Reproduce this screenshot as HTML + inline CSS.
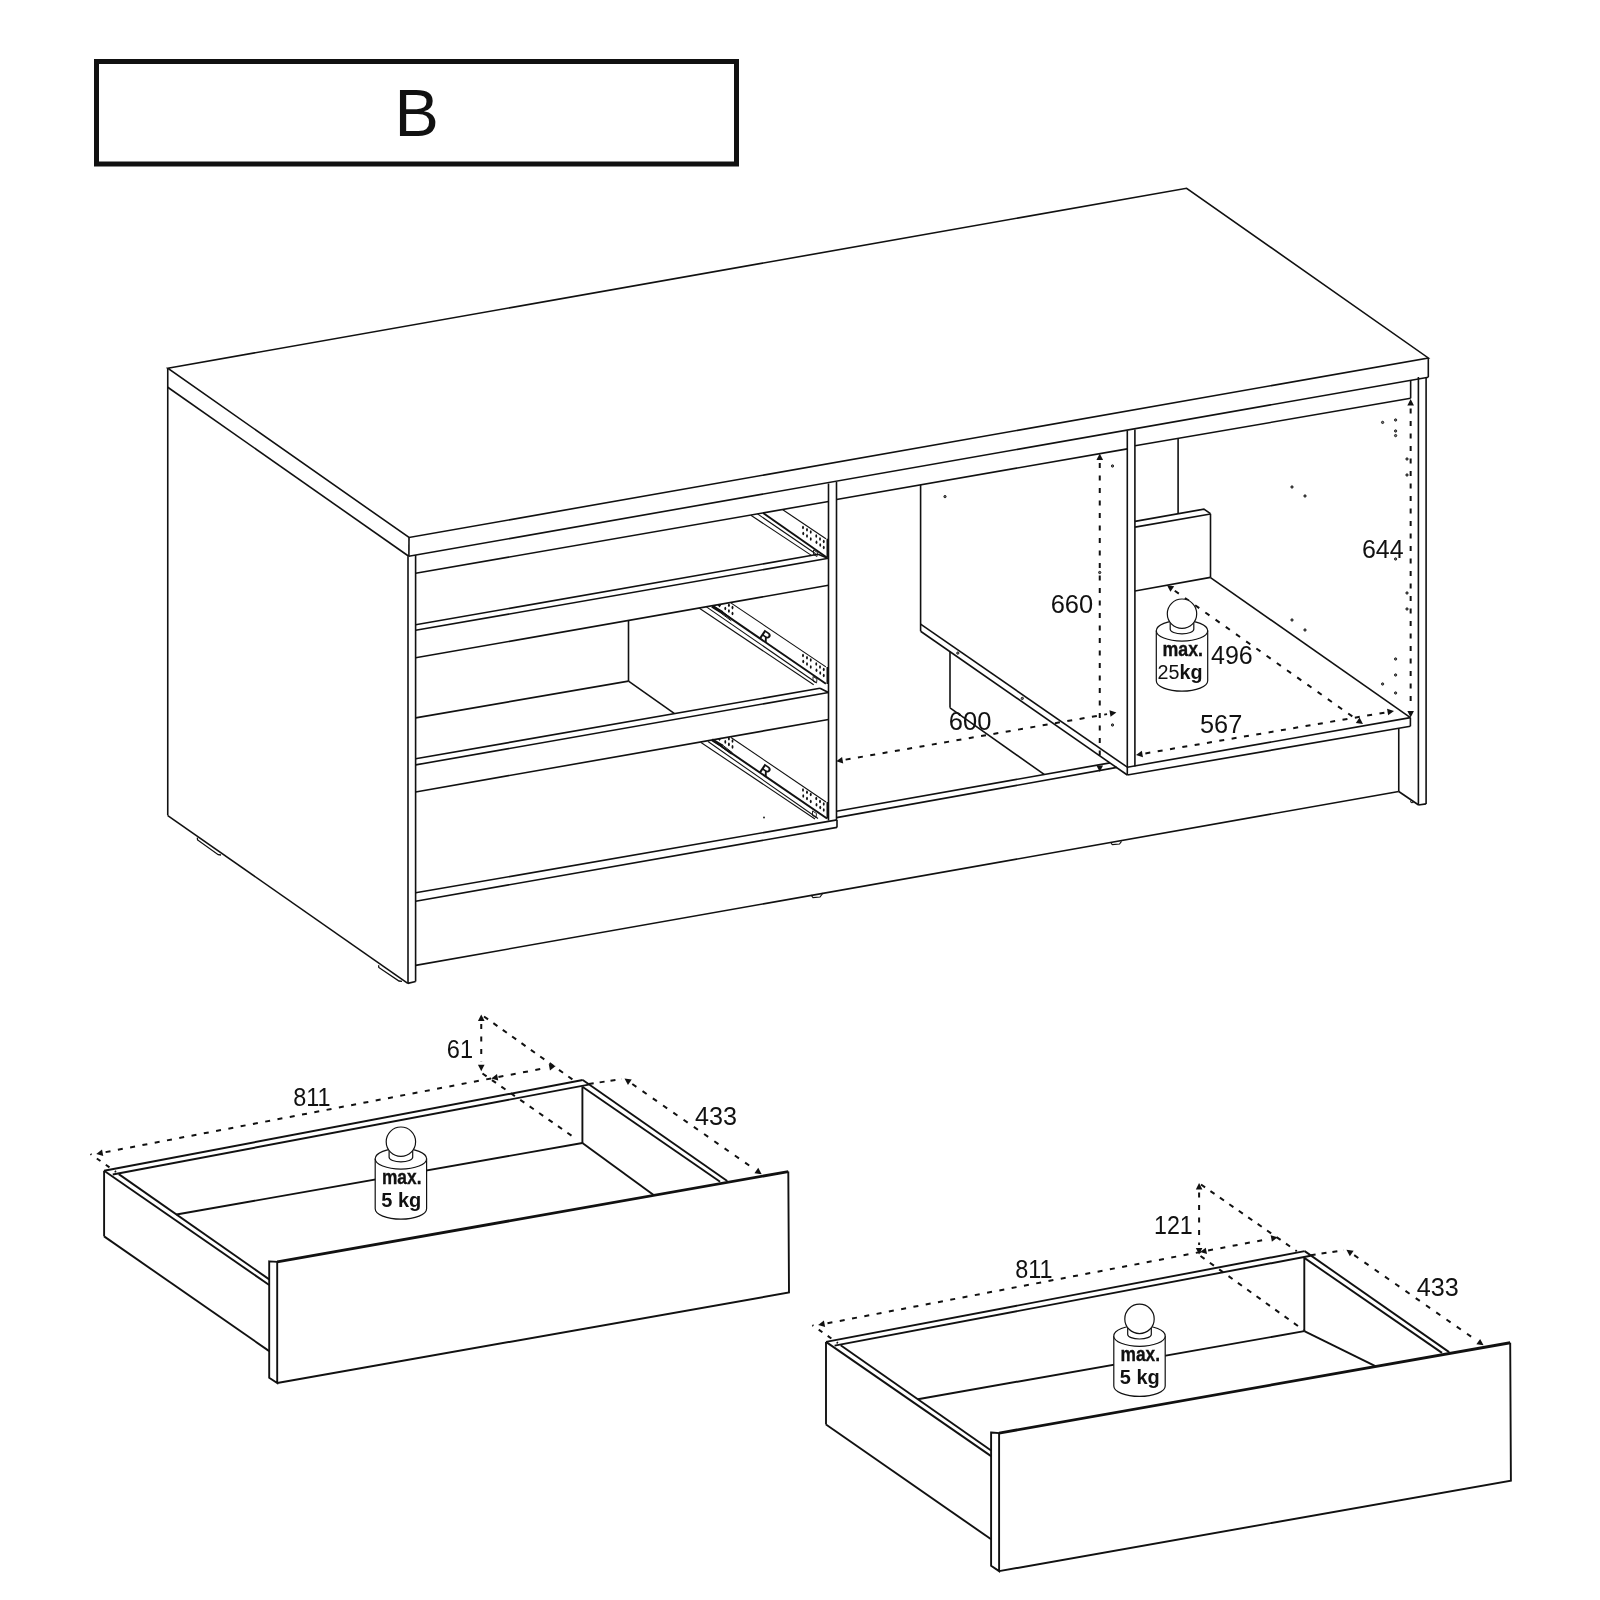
<!DOCTYPE html>
<html><head><meta charset="utf-8"><style>
html,body{margin:0;padding:0;background:#fff;}
svg{display:block;}
svg line, svg polyline, svg polygon, svg path, svg ellipse, svg circle, svg rect{stroke:#111;stroke-linecap:butt;stroke-linejoin:miter;}
.f{fill:#111;stroke:none !important;}
.d{stroke:#111;}
text{font-family:"Liberation Sans",sans-serif;fill:#111;stroke:none !important;}
</style></head><body>
<svg width="1600" height="1600" viewBox="0 0 1600 1600" style="will-change:transform">
<rect x="0" y="0" width="1600" height="1600" fill="#fff" style="stroke:none"/>
<rect x="96.5" y="61.5" width="640" height="102.5" fill="none" stroke-width="5"/>
<text x="394.40" y="135.90" font-size="66.5" text-anchor="start" >B</text>
<polygon points="167.75,368.25 1186.60,188.25 1428.30,357.95 409.06,537.50" stroke-width="1.6" fill="none"/>
<line x1="167.75" y1="368.25" x2="167.75" y2="815.60" stroke-width="1.6"/>
<line x1="167.75" y1="387.25" x2="408.75" y2="556.25" stroke-width="1.6"/>
<line x1="409.00" y1="537.50" x2="408.90" y2="556.25" stroke-width="1.6"/>
<line x1="1428.30" y1="357.95" x2="1428.30" y2="377.20" stroke-width="1.6"/>
<line x1="408.75" y1="556.25" x2="1428.30" y2="377.20" stroke-width="1.6"/>
<line x1="167.75" y1="815.60" x2="407.80" y2="983.40" stroke-width="1.6"/>
<line x1="408.00" y1="556.25" x2="408.00" y2="983.40" stroke-width="1.6"/>
<line x1="415.60" y1="555.00" x2="415.60" y2="981.50" stroke-width="1.6"/>
<line x1="407.80" y1="983.40" x2="415.60" y2="981.50" stroke-width="1.6"/>
<polyline points="197.30,837.60 197.60,840.00 218.20,854.70 221.00,855.00" stroke-width="1.3" fill="none"/>
<polyline points="378.60,965.20 378.80,967.50 399.00,981.00 402.00,981.30" stroke-width="1.3" fill="none"/>
<line x1="415.60" y1="573.30" x2="828.50" y2="501.50" stroke-width="1.6"/>
<line x1="415.60" y1="624.80" x2="818.00" y2="554.30" stroke-width="1.6"/>
<line x1="818.00" y1="554.30" x2="828.50" y2="558.50" stroke-width="1.6"/>
<line x1="415.60" y1="630.30" x2="828.50" y2="558.30" stroke-width="1.6"/>
<line x1="415.60" y1="657.80" x2="828.50" y2="585.30" stroke-width="1.6"/>
<line x1="628.50" y1="620.80" x2="628.50" y2="681.10" stroke-width="1.6"/>
<line x1="415.60" y1="717.90" x2="628.50" y2="681.10" stroke-width="1.6"/>
<line x1="628.50" y1="681.10" x2="674.20" y2="713.40" stroke-width="1.6"/>
<line x1="415.60" y1="758.80" x2="820.00" y2="688.20" stroke-width="1.6"/>
<line x1="820.00" y1="688.20" x2="828.50" y2="692.50" stroke-width="1.6"/>
<line x1="415.60" y1="764.90" x2="828.50" y2="692.50" stroke-width="1.6"/>
<line x1="415.60" y1="792.00" x2="828.50" y2="719.50" stroke-width="1.6"/>
<line x1="415.60" y1="892.80" x2="837.00" y2="819.90" stroke-width="1.6"/>
<line x1="415.60" y1="901.20" x2="837.00" y2="827.40" stroke-width="1.6"/>
<line x1="837.00" y1="819.90" x2="837.00" y2="827.40" stroke-width="1.6"/>
<circle cx="764.00" cy="817.50" r="0.9" class="f"/>
<line x1="828.50" y1="483.50" x2="828.50" y2="820.50" stroke-width="1.6"/>
<line x1="836.50" y1="482.00" x2="836.50" y2="819.90" stroke-width="1.6"/>
<line x1="750.90" y1="515.30" x2="811.80" y2="555.60" stroke-width="1.1"/>
<line x1="757.50" y1="513.90" x2="815.60" y2="553.70" stroke-width="1.1"/>
<line x1="763.10" y1="513.00" x2="826.80" y2="557.50" stroke-width="2.0"/>
<line x1="782.80" y1="509.70" x2="825.90" y2="538.70" stroke-width="1.1"/>
<line x1="827.30" y1="538.70" x2="827.30" y2="557.50" stroke-width="1.6"/>
<ellipse class="f" cx="803.00" cy="527.50" rx="0.95" ry="1.8"/>
<ellipse class="f" cx="807.00" cy="529.75" rx="0.95" ry="1.8"/>
<ellipse class="f" cx="810.75" cy="532.00" rx="0.95" ry="1.8"/>
<ellipse class="f" cx="803.25" cy="533.50" rx="0.95" ry="1.8"/>
<ellipse class="f" cx="807.00" cy="536.00" rx="0.95" ry="1.8"/>
<ellipse class="f" cx="810.75" cy="539.00" rx="0.95" ry="1.8"/>
<ellipse class="f" cx="816.25" cy="536.00" rx="0.95" ry="1.8"/>
<ellipse class="f" cx="820.00" cy="539.00" rx="0.95" ry="1.8"/>
<ellipse class="f" cx="823.75" cy="541.50" rx="0.95" ry="1.8"/>
<ellipse class="f" cx="816.50" cy="542.25" rx="0.95" ry="1.8"/>
<ellipse class="f" cx="820.25" cy="545.00" rx="0.95" ry="1.8"/>
<ellipse class="f" cx="823.75" cy="547.50" rx="0.95" ry="1.8"/>
<polyline points="813.50,550.00 813.50,554.50 817.00,556.50 817.50,552.50 813.50,550.00" stroke-width="0.9" fill="none"/>
<line x1="699.40" y1="608.30" x2="813.70" y2="684.70" stroke-width="1.1"/>
<line x1="706.40" y1="606.90" x2="815.60" y2="682.30" stroke-width="1.1"/>
<line x1="712.50" y1="605.90" x2="825.90" y2="683.70" stroke-width="2.0"/>
<line x1="731.20" y1="603.10" x2="825.90" y2="666.90" stroke-width="1.1"/>
<line x1="827.30" y1="667.00" x2="827.30" y2="684.00" stroke-width="1.6"/>
<ellipse class="f" cx="803.00" cy="655.50" rx="0.95" ry="1.8"/>
<ellipse class="f" cx="807.00" cy="657.75" rx="0.95" ry="1.8"/>
<ellipse class="f" cx="810.75" cy="660.00" rx="0.95" ry="1.8"/>
<ellipse class="f" cx="803.25" cy="661.50" rx="0.95" ry="1.8"/>
<ellipse class="f" cx="807.00" cy="664.00" rx="0.95" ry="1.8"/>
<ellipse class="f" cx="810.75" cy="667.00" rx="0.95" ry="1.8"/>
<ellipse class="f" cx="816.25" cy="664.00" rx="0.95" ry="1.8"/>
<ellipse class="f" cx="820.00" cy="667.00" rx="0.95" ry="1.8"/>
<ellipse class="f" cx="823.75" cy="669.50" rx="0.95" ry="1.8"/>
<ellipse class="f" cx="816.50" cy="670.25" rx="0.95" ry="1.8"/>
<ellipse class="f" cx="820.25" cy="673.00" rx="0.95" ry="1.8"/>
<ellipse class="f" cx="823.75" cy="675.50" rx="0.95" ry="1.8"/>
<ellipse class="f" cx="725.30" cy="608.50" rx="0.95" ry="1.8"/>
<ellipse class="f" cx="728.90" cy="605.30" rx="0.95" ry="1.8"/>
<ellipse class="f" cx="728.90" cy="611.00" rx="0.95" ry="1.8"/>
<ellipse class="f" cx="732.50" cy="607.60" rx="0.95" ry="1.8"/>
<ellipse class="f" cx="732.50" cy="613.50" rx="0.95" ry="1.8"/>
<polyline points="813.00,676.50 813.00,681.00 816.50,683.00 817.00,679.00 813.00,676.50" stroke-width="0.9" fill="none"/>
<line x1="701.00" y1="742.50" x2="815.00" y2="819.00" stroke-width="1.1"/>
<line x1="708.00" y1="741.50" x2="818.00" y2="818.50" stroke-width="1.1"/>
<line x1="713.00" y1="740.50" x2="827.00" y2="818.50" stroke-width="2.0"/>
<line x1="731.00" y1="737.50" x2="826.00" y2="802.00" stroke-width="1.1"/>
<line x1="827.30" y1="802.00" x2="827.30" y2="818.50" stroke-width="1.6"/>
<ellipse class="f" cx="803.00" cy="790.00" rx="0.95" ry="1.8"/>
<ellipse class="f" cx="807.00" cy="792.25" rx="0.95" ry="1.8"/>
<ellipse class="f" cx="810.75" cy="794.50" rx="0.95" ry="1.8"/>
<ellipse class="f" cx="803.25" cy="796.00" rx="0.95" ry="1.8"/>
<ellipse class="f" cx="807.00" cy="798.50" rx="0.95" ry="1.8"/>
<ellipse class="f" cx="810.75" cy="801.50" rx="0.95" ry="1.8"/>
<ellipse class="f" cx="816.25" cy="798.50" rx="0.95" ry="1.8"/>
<ellipse class="f" cx="820.00" cy="801.50" rx="0.95" ry="1.8"/>
<ellipse class="f" cx="823.75" cy="804.00" rx="0.95" ry="1.8"/>
<ellipse class="f" cx="816.50" cy="804.75" rx="0.95" ry="1.8"/>
<ellipse class="f" cx="820.25" cy="807.50" rx="0.95" ry="1.8"/>
<ellipse class="f" cx="823.75" cy="810.00" rx="0.95" ry="1.8"/>
<ellipse class="f" cx="725.30" cy="741.90" rx="0.95" ry="1.8"/>
<ellipse class="f" cx="728.90" cy="738.70" rx="0.95" ry="1.8"/>
<ellipse class="f" cx="728.90" cy="744.40" rx="0.95" ry="1.8"/>
<ellipse class="f" cx="732.50" cy="741.00" rx="0.95" ry="1.8"/>
<ellipse class="f" cx="732.50" cy="746.90" rx="0.95" ry="1.8"/>
<polyline points="812.50,811.00 812.50,815.50 816.00,817.50 816.50,813.50 812.50,811.00" stroke-width="0.9" fill="none"/>
<line x1="712.00" y1="606.30" x2="722.50" y2="612.60" stroke-width="3.0"/>
<line x1="722.50" y1="611.60" x2="732.50" y2="619.40" stroke-width="1.0"/>
<line x1="721.30" y1="613.40" x2="731.30" y2="620.80" stroke-width="1.0"/>
<polygon class="f" points="717.5,605.00 721.5,604.40 719.6,607.60"/>
<line x1="712.00" y1="739.70" x2="722.50" y2="746.00" stroke-width="3.0"/>
<line x1="722.50" y1="745.00" x2="732.50" y2="752.80" stroke-width="1.0"/>
<line x1="721.30" y1="746.80" x2="731.30" y2="754.20" stroke-width="1.0"/>
<polygon class="f" points="717.5,738.40 721.5,737.80 719.6,741.00"/>
<text x="765.50" y="641.40" font-size="14.5" text-anchor="middle" font-weight="bold" transform="rotate(34 765.5 636.2)">R</text>
<text x="765.50" y="775.40" font-size="14.5" text-anchor="middle" font-weight="bold" transform="rotate(34 765.5 770.2)">R</text>
<line x1="836.50" y1="499.50" x2="1127.30" y2="448.90" stroke-width="1.6"/>
<line x1="920.60" y1="485.00" x2="920.60" y2="631.25" stroke-width="1.6"/>
<line x1="920.60" y1="624.20" x2="1127.30" y2="767.20" stroke-width="1.6"/>
<line x1="920.60" y1="631.25" x2="1127.30" y2="775.00" stroke-width="1.6"/>
<line x1="950.00" y1="651.80" x2="950.00" y2="707.80" stroke-width="1.6"/>
<line x1="950.00" y1="707.80" x2="1044.50" y2="774.70" stroke-width="1.6"/>
<line x1="836.50" y1="811.20" x2="1110.00" y2="762.90" stroke-width="1.6"/>
<line x1="836.50" y1="817.60" x2="1117.00" y2="767.40" stroke-width="1.6"/>
<line x1="1127.30" y1="430.60" x2="1127.30" y2="775.00" stroke-width="1.6"/>
<line x1="1134.90" y1="429.50" x2="1134.90" y2="766.40" stroke-width="1.6"/>
<circle cx="945.00" cy="496.60" r="1.15" fill="#777" stroke-width="0.9"/>
<circle cx="1112.50" cy="466.00" r="1.15" fill="#777" stroke-width="0.9"/>
<circle cx="957.80" cy="653.10" r="1.15" fill="#777" stroke-width="0.9"/>
<circle cx="1022.30" cy="698.40" r="1.15" fill="#777" stroke-width="0.9"/>
<circle cx="1112.50" cy="725.00" r="1.15" fill="#777" stroke-width="0.9"/>
<circle cx="1099.70" cy="572.50" r="1.15" fill="#777" stroke-width="0.9"/>
<line x1="1135.00" y1="445.80" x2="1410.65" y2="398.30" stroke-width="1.6"/>
<line x1="1410.65" y1="380.30" x2="1410.65" y2="398.30" stroke-width="1.6"/>
<line x1="1178.10" y1="438.60" x2="1178.10" y2="513.60" stroke-width="1.6"/>
<polyline points="1135.00,521.40 1203.90,509.20 1210.50,513.60" stroke-width="1.6" fill="none"/>
<line x1="1135.00" y1="527.10" x2="1210.50" y2="514.00" stroke-width="1.6"/>
<line x1="1210.50" y1="513.80" x2="1210.50" y2="577.60" stroke-width="1.6"/>
<line x1="1135.00" y1="591.00" x2="1210.50" y2="577.40" stroke-width="1.6"/>
<line x1="1210.50" y1="577.60" x2="1410.40" y2="717.60" stroke-width="1.6"/>
<line x1="1127.30" y1="767.20" x2="1410.40" y2="717.60" stroke-width="1.6"/>
<line x1="1127.30" y1="775.00" x2="1410.40" y2="726.25" stroke-width="1.6"/>
<line x1="1410.40" y1="717.60" x2="1410.40" y2="726.25" stroke-width="1.6"/>
<line x1="1398.75" y1="728.50" x2="1398.75" y2="791.50" stroke-width="1.6"/>
<line x1="1398.75" y1="791.50" x2="1418.60" y2="805.00" stroke-width="1.6"/>
<line x1="415.60" y1="965.40" x2="1398.75" y2="791.50" stroke-width="1.6"/>
<line x1="1418.40" y1="377.00" x2="1418.40" y2="805.00" stroke-width="1.6"/>
<line x1="1426.10" y1="377.00" x2="1426.10" y2="803.90" stroke-width="1.6"/>
<line x1="1418.40" y1="805.00" x2="1426.10" y2="803.90" stroke-width="1.6"/>
<polyline points="811.00,895.00 813.00,897.60 820.00,897.00 823.00,893.00" stroke-width="1.2" fill="none"/>
<polyline points="1111.00,843.30 1112.50,844.60 1119.50,844.00 1121.50,841.30" stroke-width="1.2" fill="none"/>
<polyline points="1410.50,800.60 1411.00,802.60 1413.50,802.60" stroke-width="1.0" fill="none"/>
<circle cx="1382.60" cy="422.40" r="1.15" fill="#777" stroke-width="0.9"/>
<circle cx="1395.60" cy="420.00" r="1.15" fill="#777" stroke-width="0.9"/>
<circle cx="1395.60" cy="431.00" r="1.15" fill="#777" stroke-width="0.9"/>
<circle cx="1395.60" cy="435.60" r="1.15" fill="#777" stroke-width="0.9"/>
<circle cx="1407.00" cy="459.00" r="1.15" fill="#777" stroke-width="0.9"/>
<circle cx="1407.00" cy="475.00" r="1.15" fill="#777" stroke-width="0.9"/>
<circle cx="1292.00" cy="487.00" r="1.15" fill="#777" stroke-width="0.9"/>
<circle cx="1305.00" cy="496.00" r="1.15" fill="#777" stroke-width="0.9"/>
<circle cx="1395.60" cy="559.00" r="1.15" fill="#777" stroke-width="0.9"/>
<circle cx="1407.00" cy="593.00" r="1.15" fill="#777" stroke-width="0.9"/>
<circle cx="1407.00" cy="609.00" r="1.15" fill="#777" stroke-width="0.9"/>
<circle cx="1292.00" cy="620.00" r="1.15" fill="#777" stroke-width="0.9"/>
<circle cx="1305.00" cy="630.00" r="1.15" fill="#777" stroke-width="0.9"/>
<circle cx="1395.60" cy="659.00" r="1.15" fill="#777" stroke-width="0.9"/>
<circle cx="1395.60" cy="675.00" r="1.15" fill="#777" stroke-width="0.9"/>
<circle cx="1382.60" cy="684.00" r="1.15" fill="#777" stroke-width="0.9"/>
<circle cx="1395.60" cy="693.00" r="1.15" fill="#777" stroke-width="0.9"/>
<polygon class="f" points="1099.75,453.50 1103.05,460.00 1096.45,460.00"/>
<polygon class="f" points="1099.75,771.90 1096.45,765.40 1103.05,765.40"/>
<line class="d" x1="1099.75" y1="463.00" x2="1099.75" y2="762.40" stroke-width="2.0" stroke-dasharray="5 7.5" stroke-dashoffset="0"/>
<text transform="translate(1051.90,612.70) scale(0.987,1)" x="-1.25" y="0" font-size="25.8">660</text>
<polygon class="f" points="836.25,761.25 842.09,756.88 843.22,763.39"/>
<polygon class="f" points="1116.40,712.50 1110.56,716.87 1109.43,710.36"/>
<line class="d" x1="845.61" y1="759.62" x2="1107.04" y2="714.13" stroke-width="2.0" stroke-dasharray="5 7.5" stroke-dashoffset="0"/>
<text transform="translate(950.00,730.30) scale(0.989,1)" x="-1.25" y="0" font-size="25.8">600</text>
<polygon class="f" points="1410.65,399.00 1413.95,405.50 1407.35,405.50"/>
<polygon class="f" points="1410.65,717.60 1407.35,711.10 1413.95,711.10"/>
<line class="d" x1="1410.65" y1="408.50" x2="1410.65" y2="708.10" stroke-width="2.0" stroke-dasharray="5 7.5" stroke-dashoffset="0"/>
<text transform="translate(1363.10,557.70) scale(0.968,1)" x="-1.25" y="0" font-size="25.8">644</text>
<polygon class="f" points="1136.00,755.00 1141.85,750.65 1142.96,757.16"/>
<polygon class="f" points="1394.00,711.00 1388.15,715.35 1387.04,708.84"/>
<line class="d" x1="1145.36" y1="753.40" x2="1384.64" y2="712.60" stroke-width="2.0" stroke-dasharray="5 7.5" stroke-dashoffset="0"/>
<text transform="translate(1201.00,732.80) scale(0.982,1)" x="-1.00" y="0" font-size="25.8">567</text>
<polygon class="f" points="1167.00,585.30 1174.21,586.36 1170.40,591.75"/>
<polygon class="f" points="1363.00,724.00 1355.79,722.94 1359.60,717.55"/>
<line class="d" x1="1174.75" y1="590.79" x2="1355.25" y2="718.51" stroke-width="2.0" stroke-dasharray="5 7.5" stroke-dashoffset="0"/>
<text transform="translate(1211.50,663.80) scale(0.970,1)" x="-0.50" y="0" font-size="25.8">496</text>
<g transform="translate(1182.00,613.70)">
<path d="M-25.7,17 L-25.7,67 A25.7,10.5 0 0 0 25.7,67 L25.7,17" fill="#fff" stroke-width="1.2"/>
<ellipse cx="0" cy="17" rx="25.7" ry="10.4" fill="#fff" stroke-width="1.2"/>
<path d="M-11.8,9 L-11.8,15.5 A11.8,4.6 0 0 0 11.8,15.5 L11.8,9" fill="#fff" stroke-width="1.2"/>
<circle cx="0" cy="0" r="14.7" fill="#fff" stroke-width="1.2"/>
<text x="0.8" y="42.0" font-size="20.8" font-weight="bold" text-anchor="middle" textLength="40.5" lengthAdjust="spacingAndGlyphs" style="stroke:#111 !important;stroke-width:0.35">max.</text>
<text x="-24.5" y="65.4" font-size="20" textLength="45" lengthAdjust="spacingAndGlyphs">25<tspan font-weight="bold">kg</tspan></text>
</g>
<line x1="176.48" y1="1214.50" x2="582.40" y2="1143.00" stroke-width="1.9"/>
<line x1="104.10" y1="1170.75" x2="582.75" y2="1080.00" stroke-width="1.9"/>
<line x1="112.75" y1="1174.50" x2="588.75" y2="1084.60" stroke-width="1.9"/>
<line x1="104.10" y1="1170.75" x2="104.10" y2="1236.40" stroke-width="1.9"/>
<line x1="104.10" y1="1236.40" x2="269.20" y2="1351.10" stroke-width="1.9"/>
<line x1="104.10" y1="1170.75" x2="269.20" y2="1285.00" stroke-width="1.9"/>
<line x1="118.75" y1="1174.10" x2="269.20" y2="1279.40" stroke-width="1.9"/>
<line x1="582.40" y1="1086.75" x2="582.40" y2="1143.00" stroke-width="1.9"/>
<line x1="582.40" y1="1143.00" x2="654.00" y2="1195.30" stroke-width="1.9"/>
<line x1="582.75" y1="1080.00" x2="727.25" y2="1181.00" stroke-width="1.9"/>
<line x1="582.40" y1="1086.75" x2="720.10" y2="1181.75" stroke-width="1.9"/>
<polygon points="269.20,1261.35 277.20,1261.90 277.20,1383.00 269.20,1377.70" stroke-width="1.9" fill="none"/>
<line x1="277.20" y1="1261.90" x2="788.30" y2="1171.60" stroke-width="2.8"/>
<polyline points="788.30,1171.60 789.00,1292.50 277.20,1383.00" stroke-width="1.9" fill="none"/>
<polygon class="f" points="96.25,1153.90 102.02,1149.44 103.25,1155.92"/>
<polygon class="f" points="555.75,1066.10 549.98,1070.56 548.75,1064.08"/>
<line class="d" x1="105.58" y1="1152.12" x2="546.42" y2="1067.88" stroke-width="2.0" stroke-dasharray="5 7.5" stroke-dashoffset="0"/>
<text transform="translate(294.40,1106.40) scale(0.909,1)" x="-1.25" y="0" font-size="25.8">811</text>
<polygon class="f" points="624.50,1078.60 631.72,1079.61 627.95,1085.02"/>
<polygon class="f" points="761.70,1174.20 754.48,1173.19 758.25,1167.78"/>
<line class="d" x1="632.29" y1="1084.03" x2="753.91" y2="1168.77" stroke-width="2.0" stroke-dasharray="5 7.5" stroke-dashoffset="0"/>
<text transform="translate(695.40,1124.80) scale(0.976,1)" x="-0.50" y="0" font-size="25.8">433</text>
<line class="d" x1="588.75" y1="1084.00" x2="621.50" y2="1079.10" stroke-width="2.0" stroke-dasharray="5 6" stroke-dashoffset="0"/>
<line class="d" x1="116.00" y1="1172.00" x2="90.50" y2="1154.00" stroke-width="2.0" stroke-dasharray="4.5 6.5" stroke-dashoffset="3"/>
<polygon class="f" points="481.25,1014.40 484.55,1020.90 477.95,1020.90"/>
<polygon class="f" points="481.25,1071.25 477.95,1064.75 484.55,1064.75"/>
<line class="d" x1="481.25" y1="1023.90" x2="481.25" y2="1061.75" stroke-width="2.0" stroke-dasharray="5 7.5" stroke-dashoffset="0"/>
<text transform="translate(448.00,1057.80) scale(0.914,1)" x="-1.25" y="0" font-size="25.8">61</text>
<polygon class="f" points="491.25,1078.42 497.02,1073.96 498.25,1080.45"/>
<line class="d" x1="484.00" y1="1016.50" x2="575.00" y2="1081.25" stroke-width="2.0" stroke-dasharray="5 6.5" stroke-dashoffset="0"/>
<line class="d" x1="482.50" y1="1073.50" x2="576.75" y2="1139.25" stroke-width="2.0" stroke-dasharray="5 6.5" stroke-dashoffset="0"/>
<g transform="translate(400.90,1141.70)">
<path d="M-25.7,17 L-25.7,67 A25.7,10.5 0 0 0 25.7,67 L25.7,17" fill="#fff" stroke-width="1.2"/>
<ellipse cx="0" cy="17" rx="25.7" ry="10.4" fill="#fff" stroke-width="1.2"/>
<path d="M-11.8,9 L-11.8,15.5 A11.8,4.6 0 0 0 11.8,15.5 L11.8,9" fill="#fff" stroke-width="1.2"/>
<circle cx="0" cy="0" r="14.7" fill="#fff" stroke-width="1.2"/>
<text x="0.8" y="42.0" font-size="20.8" font-weight="bold" text-anchor="middle" textLength="39.5" lengthAdjust="spacingAndGlyphs" style="stroke:#111 !important;stroke-width:0.35">max.</text>
<text x="0.3" y="65.6" font-size="19.8" font-weight="bold" text-anchor="middle" textLength="40" lengthAdjust="spacingAndGlyphs">5 kg</text>
</g>
<line x1="917.78" y1="1399.24" x2="1304.30" y2="1331.15" stroke-width="1.9"/>
<line x1="826.00" y1="1341.90" x2="1304.65" y2="1251.15" stroke-width="1.9"/>
<line x1="834.65" y1="1345.65" x2="1310.65" y2="1255.75" stroke-width="1.9"/>
<line x1="826.00" y1="1341.90" x2="826.00" y2="1424.55" stroke-width="1.9"/>
<line x1="826.00" y1="1424.55" x2="991.10" y2="1539.25" stroke-width="1.9"/>
<line x1="826.00" y1="1341.90" x2="991.10" y2="1456.15" stroke-width="1.9"/>
<line x1="840.65" y1="1345.25" x2="991.10" y2="1450.55" stroke-width="1.9"/>
<line x1="1304.30" y1="1257.90" x2="1304.30" y2="1331.15" stroke-width="1.9"/>
<line x1="1304.30" y1="1331.15" x2="1375.90" y2="1366.45" stroke-width="1.9"/>
<line x1="1304.65" y1="1251.15" x2="1449.15" y2="1352.15" stroke-width="1.9"/>
<line x1="1304.30" y1="1257.90" x2="1442.00" y2="1352.90" stroke-width="1.9"/>
<polygon points="991.10,1432.50 999.10,1433.05 999.10,1571.15 991.10,1565.85" stroke-width="1.9" fill="none"/>
<line x1="999.10" y1="1433.05" x2="1510.20" y2="1342.75" stroke-width="2.8"/>
<polyline points="1510.20,1342.75 1510.90,1480.65 999.10,1571.15" stroke-width="1.9" fill="none"/>
<polygon class="f" points="818.15,1325.05 823.92,1320.59 825.15,1327.07"/>
<polygon class="f" points="1277.65,1237.25 1271.88,1241.71 1270.65,1235.23"/>
<line class="d" x1="827.48" y1="1323.27" x2="1268.32" y2="1239.03" stroke-width="2.0" stroke-dasharray="5 7.5" stroke-dashoffset="0"/>
<text transform="translate(1016.30,1277.55) scale(0.909,1)" x="-1.25" y="0" font-size="25.8">811</text>
<polygon class="f" points="1346.40,1249.75 1353.62,1250.76 1349.85,1256.17"/>
<polygon class="f" points="1483.60,1345.35 1476.38,1344.34 1480.15,1338.93"/>
<line class="d" x1="1354.19" y1="1255.18" x2="1475.81" y2="1339.92" stroke-width="2.0" stroke-dasharray="5 7.5" stroke-dashoffset="0"/>
<text transform="translate(1417.30,1295.95) scale(0.976,1)" x="-0.50" y="0" font-size="25.8">433</text>
<line class="d" x1="1310.65" y1="1255.15" x2="1343.40" y2="1250.25" stroke-width="2.0" stroke-dasharray="5 6" stroke-dashoffset="0"/>
<line class="d" x1="837.90" y1="1343.15" x2="812.40" y2="1325.15" stroke-width="2.0" stroke-dasharray="4.5 6.5" stroke-dashoffset="3"/>
<polygon class="f" points="1199.10,1183.10 1202.40,1189.60 1195.80,1189.60"/>
<polygon class="f" points="1199.10,1254.50 1195.80,1248.00 1202.40,1248.00"/>
<line class="d" x1="1199.10" y1="1192.60" x2="1199.10" y2="1245.00" stroke-width="2.0" stroke-dasharray="5 7.5" stroke-dashoffset="0"/>
<text transform="translate(1155.80,1234.40) scale(0.901,1)" x="-2.00" y="0" font-size="25.8">121</text>
<polygon class="f" points="1200.00,1252.09 1205.77,1247.63 1207.00,1254.11"/>
<line class="d" x1="1201.00" y1="1184.50" x2="1296.80" y2="1251.20" stroke-width="2.0" stroke-dasharray="5 6.5" stroke-dashoffset="0"/>
<line class="d" x1="1200.50" y1="1256.00" x2="1303.50" y2="1330.00" stroke-width="2.0" stroke-dasharray="5 6.5" stroke-dashoffset="0"/>
<g transform="translate(1139.50,1318.90)">
<path d="M-25.7,17 L-25.7,67 A25.7,10.5 0 0 0 25.7,67 L25.7,17" fill="#fff" stroke-width="1.2"/>
<ellipse cx="0" cy="17" rx="25.7" ry="10.4" fill="#fff" stroke-width="1.2"/>
<path d="M-11.8,9 L-11.8,15.5 A11.8,4.6 0 0 0 11.8,15.5 L11.8,9" fill="#fff" stroke-width="1.2"/>
<circle cx="0" cy="0" r="14.7" fill="#fff" stroke-width="1.2"/>
<text x="0.8" y="42.0" font-size="20.8" font-weight="bold" text-anchor="middle" textLength="39.5" lengthAdjust="spacingAndGlyphs" style="stroke:#111 !important;stroke-width:0.35">max.</text>
<text x="0.3" y="65.6" font-size="19.8" font-weight="bold" text-anchor="middle" textLength="40" lengthAdjust="spacingAndGlyphs">5 kg</text>
</g>
</svg>
</body></html>
